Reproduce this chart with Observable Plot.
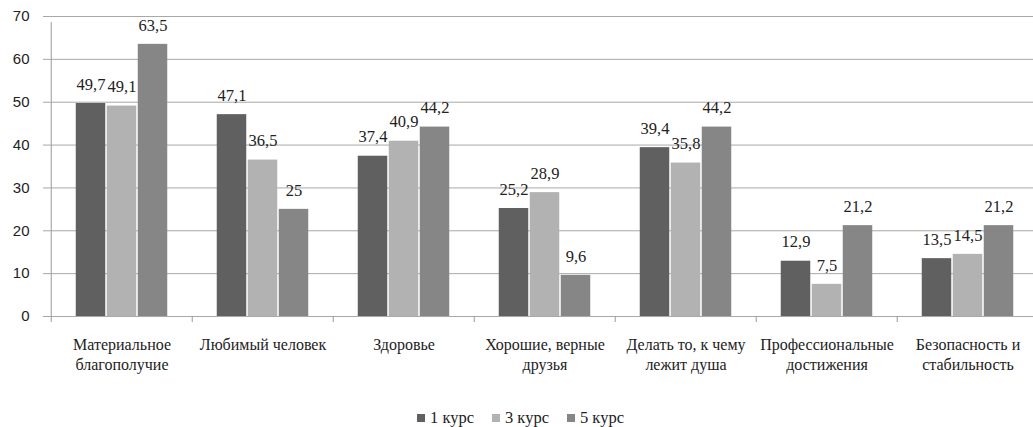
<!DOCTYPE html>
<html>
<head>
<meta charset="utf-8">
<script src="https://cdn.jsdelivr.net/npm/d3@7"></script>
<script src="https://cdn.jsdelivr.net/npm/@observablehq/plot@0.6"></script>
<style>
  html, body { margin: 0; padding: 0; background: #fff; overflow: hidden; }
  #chart svg text, #chart svg tspan { font-family: "Liberation Serif", serif; }
  #chart svg g[aria-label="y-axis tick label"] text { font-family: "Liberation Sans", sans-serif; }
  #legend { display: flex; align-items: center; height: 27px; margin-left: 417px;
    font-family: "Liberation Serif", serif; font-size: 16.5px; color: #222; }
  .item { display: flex; align-items: center; margin-right: 18px; }
  .sw { width: 8px; height: 8px; margin-right: 5px; }
</style>
</head>
<body>
<div id="chart"></div>
<div id="legend"></div>
<script>
const categories = [
  "Материальное\nблагополучие",
  "Любимый человек",
  "Здоровье",
  "Хорошие, верные\nдрузья",
  "Делать то, к чему\nлежит душа",
  "Профессиональные\nдостижения",
  "Безопасность и\nстабильность"
];
const series = ["1 курс", "3 курс", "5 курс"];
const course1 = [49.7, 47.1, 37.4, 25.2, 39.4, 12.9, 13.5];
const course3 = [49.1, 36.5, 40.9, 28.9, 35.8, 7.5, 14.5];
const course5 = [63.5, 25, 44.2, 9.6, 44.2, 21.2, 21.2];
const colors = ["#606060", "#b2b2b2", "#868686"];
const yTicks = [0, 10, 20, 30, 40, 50, 60, 70];

const values = [course1, course3, course5];
const rows = values.map(vals => categories.map((c, j) => ({category: c, value: vals[j]})));

const x0 = 49, x1 = 1039.5, pIn = 0.343, pOut = 0.17;
const step = (x1 - x0) / (categories.length - pIn + 2 * pOut);
const bw = step * (1 - pIn);
const slot = bw / 3;
const fmt = d => String(d).replace(".", ",");

const barMarks = rows.map((data, i) => Plot.barY(data, {
  x: "category", y: "value", fill: colors[i],
  insetLeft: i * slot + 0.75, insetRight: (2 - i) * slot + 0.75
}));
const labelMarks = rows.map((data, i) => Plot.text(data, {
  x: "category", y: "value", text: d => fmt(d.value), dx: (i - 1) * slot, dy: -19,
  fontSize: 16.5, fill: "#222"
}));

const chart = Plot.plot({
  width: 1033, height: 404,
  marginLeft: 49, marginRight: 0, marginTop: 16, marginBottom: 88,
  style: {color: "#222", background: "#fff"},
  x: {domain: categories, range: [x0, x1], paddingInner: pIn, paddingOuter: pOut, axis: null},
  y: {domain: [0, 70], axis: null},
  marks: [
    Plot.gridY(yTicks, {stroke: "#a8a8a8", strokeOpacity: 1, insetLeft: -6}),
    ...barMarks,
    Plot.ruleX(categories, {x: d => d, y1: 0, y2: 0, insetBottom: -6, dx: -step / 2, stroke: "#999"}),
    Plot.ruleX([categories[0]], {x: d => d, y1: 0, y2: 70, insetBottom: -6, dx: -step / 2, stroke: "#999"}),
    Plot.axisY(yTicks, {tickSize: 0, tickPadding: 20, fontSize: 15, label: null}),
    Plot.text(categories, {x: d => d, frameAnchor: "bottom", lineAnchor: "top", dy: 19,
      text: d => d, fontSize: 16, lineHeight: 1.25, fill: "#222"}),
    ...labelMarks
  ]
});
document.getElementById("chart").appendChild(chart);

const legend = document.getElementById("legend");
series.forEach((s, i) => {
  const item = document.createElement("div");
  item.className = "item";
  const sw = document.createElement("div");
  sw.className = "sw";
  sw.style.background = colors[i];
  const t = document.createElement("span");
  t.textContent = s;
  item.appendChild(sw); item.appendChild(t);
  legend.appendChild(item);
});
</script>
</body>
</html>
